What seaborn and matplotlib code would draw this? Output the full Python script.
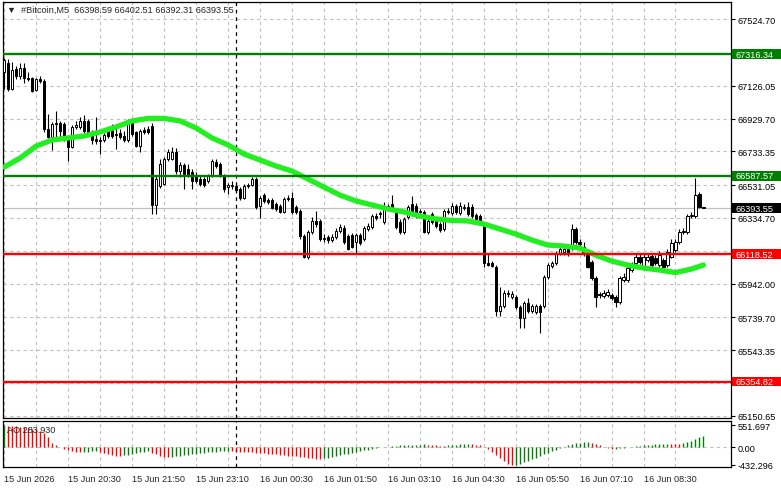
import numpy as np
import pandas as pd
import seaborn as sns
import matplotlib.pyplot as plt
from matplotlib.patches import Rectangle

sns.set_style('white')
plt.rcParams['font.family'] = ['Liberation Sans', 'DejaVu Sans']

# 5-minute candles, 15 Jun 19:10 .. 16 Jun 09:45
opens = [
    67208, 67262, 67106, 67226, 67184, 67232, 67172, 67172,
    67100, 67166, 67154, 66866, 66818, 66896, 66902, 66896,
    66806, 66758, 66878, 66878, 66914, 66914, 66848, 66806,
    66800, 66800, 66866, 66860, 66836, 66842, 66824, 66800,
    66908, 66848, 66764, 66860, 66866, 66884, 66410, 66524,
    66536, 66686, 66686, 66728, 66614, 66650, 66626, 66608,
    66584, 66566, 66566, 66554, 66584, 66668, 66656, 66584,
    66518, 66524, 66524, 66506, 66452, 66524, 66530, 66566,
    66404, 66470, 66440, 66440, 66416, 66404, 66368, 66446,
    66452, 66398, 66374, 66224, 66104, 66248, 66314, 66314,
    66206, 66218, 66200, 66218, 66254, 66272, 66224, 66230,
    66188, 66230, 66206, 66266, 66278, 66344, 66356, 66308,
    66398, 66416, 66368, 66308, 66248, 66338, 66416, 66404,
    66368, 66368, 66248, 66356, 66314, 66296, 66266, 66368,
    66362, 66404, 66362, 66392, 66398, 66398, 66350, 66344,
    66296, 66068, 66068, 66044, 65780, 65810, 65882, 65864,
    65864, 65804, 65738, 65828, 65780, 65774, 65810, 65810,
    65984, 66050, 66068, 66128, 66134, 66152, 66158, 66266,
    66188, 66164, 66116, 66074, 65978, 65876, 65870, 65876,
    65876, 65864, 65834, 65966, 65966, 66026, 66068, 66104,
    66044, 66086, 66110, 66098, 66056, 66086, 66056, 66104,
    66146, 66188, 66248, 66248, 66344, 66344, 66476, 66398.59,
]
highs = [
    67292, 67286, 67268, 67244, 67262, 67262, 67208, 67178,
    67172, 67184, 67166, 66956, 66908, 66974, 66914, 66908,
    66818, 66890, 66914, 66938, 66950, 66926, 66860, 66938,
    66818, 66842, 66878, 66896, 66896, 66866, 66854, 66926,
    66926, 66854, 66866, 66878, 66884, 66902, 66590, 66686,
    66698, 66746, 66758, 66752, 66668, 66662, 66656, 66626,
    66608, 66584, 66578, 66596, 66686, 66686, 66668, 66596,
    66542, 66554, 66542, 66518, 66536, 66542, 66578, 66578,
    66464, 66482, 66452, 66452, 66428, 66416, 66458, 66470,
    66488, 66410, 66386, 66236, 66260, 66338, 66374, 66326,
    66236, 66230, 66236, 66272, 66296, 66290, 66236, 66242,
    66242, 66242, 66284, 66302, 66356, 66362, 66374, 66428,
    66416, 66470, 66386, 66326, 66338, 66410, 66464, 66422,
    66386, 66380, 66332, 66368, 66326, 66308, 66386, 66392,
    66422, 66416, 66428, 66416, 66428, 66416, 66362, 66356,
    66308, 66128, 66080, 66056, 65924, 65906, 65906, 65900,
    65876, 65816, 65840, 65858, 65822, 65822, 65822, 65996,
    66068, 66080, 66140, 66170, 66170, 66164, 66296, 66278,
    66206, 66188, 66128, 66086, 65990, 65894, 65906, 65912,
    65888, 65876, 65990, 66008, 66050, 66074, 66122, 66122,
    66122, 66122, 66122, 66116, 66140, 66098, 66152, 66206,
    66206, 66266, 66272, 66356, 66368, 66572, 66488, 66402.51,
]
lows = [
    67106, 67094, 67100, 67166, 67166, 67142, 67154, 67088,
    67094, 67142, 66848, 66812, 66740, 66818, 66806, 66794,
    66674, 66752, 66866, 66866, 66842, 66836, 66776, 66776,
    66716, 66788, 66812, 66812, 66746, 66806, 66788, 66788,
    66824, 66758, 66728, 66836, 66836, 66356, 66356, 66512,
    66530, 66674, 66680, 66596, 66578, 66506, 66578, 66506,
    66542, 66524, 66518, 66542, 66578, 66632, 66578, 66488,
    66476, 66506, 66488, 66440, 66446, 66512, 66524, 66386,
    66332, 66422, 66416, 66386, 66374, 66362, 66362, 66434,
    66356, 66356, 66206, 66098, 66092, 66236, 66278, 66194,
    66188, 66182, 66188, 66206, 66242, 66176, 66146, 66158,
    66128, 66170, 66194, 66254, 66266, 66320, 66332, 66296,
    66380, 66374, 66266, 66236, 66236, 66326, 66344, 66332,
    66350, 66242, 66236, 66296, 66272, 66248, 66254, 66356,
    66350, 66356, 66350, 66380, 66344, 66332, 66314, 66290,
    66044, 66050, 66044, 65750, 65750, 65798, 65864, 65852,
    65792, 65678, 65678, 65768, 65768, 65762, 65648, 65798,
    65972, 66038, 66056, 66116, 66116, 66110, 66146, 66176,
    66164, 66110, 66038, 65966, 65804, 65858, 65858, 65864,
    65846, 65804, 65822, 65954, 65954, 66014, 66056, 66062,
    66026, 66074, 66044, 66056, 66044, 66038, 66044, 66098,
    66134, 66176, 66236, 66236, 66332, 66332, 66392, 66392.31,
]
closes = [
    67280, 67106, 67220, 67184, 67232, 67172, 67166, 67094,
    67166, 67154, 66866, 66818, 66896, 66902, 66854, 66806,
    66758, 66878, 66890, 66914, 66854, 66848, 66800, 66794,
    66794, 66830, 66824, 66824, 66830, 66818, 66800, 66902,
    66836, 66764, 66854, 66848, 66848, 66410, 66566, 66656,
    66686, 66728, 66728, 66614, 66650, 66596, 66584, 66554,
    66554, 66536, 66530, 66584, 66674, 66644, 66590, 66506,
    66530, 66530, 66500, 66452, 66524, 66530, 66566, 66398,
    66452, 66434, 66428, 66392, 66386, 66368, 66446, 66452,
    66368, 66368, 66224, 66104, 66248, 66314, 66296, 66206,
    66212, 66200, 66218, 66254, 66278, 66188, 66152, 66164,
    66230, 66182, 66272, 66284, 66344, 66332, 66362, 66398,
    66404, 66386, 66278, 66248, 66326, 66398, 66356, 66344,
    66374, 66248, 66314, 66308, 66284, 66260, 66374, 66374,
    66404, 66368, 66404, 66398, 66356, 66344, 66326, 66302,
    66068, 66056, 66050, 65780, 65810, 65888, 65888, 65882,
    65804, 65738, 65828, 65780, 65810, 65810, 65774, 65984,
    66056, 66068, 66128, 66152, 66152, 66128, 66266, 66188,
    66176, 66128, 66044, 65978, 65864, 65882, 65888, 65894,
    65858, 65834, 65978, 65984, 66038, 66050, 66104, 66074,
    66104, 66104, 66056, 66068, 66116, 66044, 66134, 66182,
    66188, 66248, 66254, 66344, 66350, 66470, 66398, 66393.55,
]

# moving average read every 4 bars
ma_bars = [0, 4, 8, 12, 16, 20, 24, 28, 32, 36, 40, 44, 48, 52, 56, 60,
           64, 68, 72, 76, 80, 84, 88, 92, 96, 100, 104, 108, 112, 116,
           120, 124, 128, 132, 136, 140, 144, 148, 152, 156, 160, 164,
           168, 172, 175]
ma_values = [66640, 66694, 66766, 66802, 66814, 66826, 66850, 66880, 66916,
             66931, 66931, 66916, 66874, 66814, 66772, 66718, 66682, 66646,
             66616, 66568, 66520, 66472, 66437, 66413, 66389, 66371, 66347,
             66329, 66320, 66317, 66299, 66269, 66239, 66203, 66173, 66167,
             66155, 66113, 66077, 66053, 66035, 66023, 66008, 66029, 66053]

# Awesome Oscillator
ao_values = [
    551.7, 540, 532, 522, 512, 500, 488, 470, 450, 420, 360, 250,
    120, 50, 10,
    -30, -60, -85, -100, -110,
    -105, -100, -95, -92,
    -110, -140, -165, -185, -200, -205,
    -195, -180, -160, -140, -120, -105, -95,
    -130, -170, -205, -230, -245,
    -235, -220, -205, -190, -175, -160, -150, -140, -130, -120, -110, -100, -92, -85, -80,
    -85, -95, -105, -110, -115, -120, -125,
    -130, -140, -150, -160, -170, -180, -190, -200, -210, -220, -230, -240, -255, -270, -285, -290,
    -270, -250, -230, -210, -190, -170, -150, -130, -110, -90, -70, -50, -30, -15, 0, 10,
    20, 30, 40, 50, 55, 60, 65, 70, 72, 75,
    70, 62, 55, 48, 40,
    50, 60, 70, 80, 88, 95,
    85, 70, 50, 20,
    -40, -110, -190, -270, -340, -400, -432.3,
    -425, -400, -370, -330, -290, -250, -210, -170, -130, -90, -50, -10,
    20, 50, 80, 100, 115, 125, 130,
    110, 80, 50, 20, -10, -40,
    -30, -20, -10, 0, 10,
    25, 40, 50, 60, 70, 78, 85, 90, 92,
    85, 80, 75,
    100, 130, 170, 210, 250, 283.93,
]

green_levels = [67316.34, 66587.57]
red_levels = [66118.52, 65354.82]
last_price = 66393.55

price_ticks = [67524.70, 67325.40, 67126.05, 66929.70, 66733.35, 66531.05,
               66334.70, 66138.35, 65942.00, 65739.70, 65543.35, 65347.00,
               65150.65]
price_labels = ['67524.70', '', '67126.05', '66929.70', '66733.35', '66531.05',
                '66334.70', '', '65942.00', '65739.70', '65543.35', '',
                '65150.65']
time_labels = ['15 Jun 2026', '15 Jun 20:30', '15 Jun 21:50', '15 Jun 23:10',
               '16 Jun 00:30', '16 Jun 01:50', '16 Jun 03:10', '16 Jun 04:30',
               '16 Jun 05:50', '16 Jun 07:10', '16 Jun 08:30']
ao_ticks = [551.697, 0.0, -432.296]
ao_labels = ['551.697', '0.00', '-432.296']

df = pd.DataFrame({'open': opens, 'high': highs, 'low': lows, 'close': closes})
df['bar'] = np.arange(len(df))
ma = pd.DataFrame({'bar': ma_bars, 'ma': ma_values})

W, H = 781, 489
fig = plt.figure(figsize=(W / 100, H / 100), dpi=100)
ax = fig.add_axes([3 / W, 1 - 418.5 / H, 728 / W, 415.5 / H])
ax2 = fig.add_axes([3 / W, 1 - 468 / H, 728 / W, 46.5 / H])

grid_kw = dict(color='#c0c0c0', linestyle=(0, (3, 3)), linewidth=0.8)
fs = 6.6

# candles
ax.axhline(last_price, color='#c0c0c0', linewidth=0.9, zorder=1)
ax.vlines(df['bar'], df['low'], df['high'], color='black', linewidth=0.8, zorder=3)
body_bottom = np.minimum(df['open'], df['close'])
body_height = (df['close'] - df['open']).abs()
body_color = np.where(df['close'] < df['open'], 'black', 'white')
ax.bar(df['bar'], body_height, bottom=body_bottom, width=0.55,
       color=body_color, edgecolor='black', linewidth=0.7, zorder=4)

sns.lineplot(data=ma, x='bar', y='ma', ax=ax, color='#22ee22', linewidth=3.8,
             zorder=5, legend=False)

for lv in green_levels:
    ax.axhline(lv, color='#008000', linewidth=1.7, zorder=6)
for lv in red_levels:
    ax.axhline(lv, color='#ff0000', linewidth=1.7, zorder=6)

ax.axvline(58, color='black', linestyle=(0, (3, 3)), linewidth=0.9, zorder=2)

ax.set_xlim(-0.33, 181.9)
ax.set_ylim(65139.9, 67628.3)
ax.set_yticks(price_ticks)
ax.set_yticklabels(price_labels)
ax.set_xticks(range(0, 176, 16))
ax.set_xticks(range(8, 176, 16), minor=True)
ax.grid(True, which='both', zorder=0, **grid_kw)
ax.set_axisbelow(True)
ax.yaxis.tick_right()
ax.tick_params(axis='y', labelsize=fs, length=3, width=0.8, pad=1.5, colors='black')
ax.tick_params(axis='x', which='both', bottom=False, labelbottom=False)
ax.set_xlabel('')
ax.set_ylabel('')

# price boxes on the right
box_w = 50 / 728
box_h = 9.5 * 5.989
tag_colors = [(green_levels[0], '#008000'), (green_levels[1], '#008000'),
              (last_price, 'black'), (red_levels[0], '#ff0000'),
              (red_levels[1], '#ff0000')]
for lv, col in tag_colors:
    ax.add_patch(Rectangle((1.0008, lv - box_h / 2), box_w, box_h, facecolor=col,
                           edgecolor='none', transform=ax.get_yaxis_transform(),
                           clip_on=False, zorder=10))
    ax.text(1.0008 + 4 / 728, lv, f'{lv:.2f}', color='white', fontsize=fs,
            va='center', ha='left', transform=ax.get_yaxis_transform(),
            clip_on=False, zorder=11)

ax.text(4 / 728, 1 - 7.5 / 415.5, '\u25bc  #Bitcoin,M5  66398.59 66402.51 66392.31 66393.55',
        transform=ax.transAxes, fontsize=fs, va='center', ha='left',
        family=['Liberation Sans', 'DejaVu Sans'])

# AO panel
ao_color = ['#008000' if i == 0 or ao_values[i] > ao_values[i - 1] else '#ff0000'
            for i in range(len(ao_values))]
ax2.axhline(0, zorder=1, **grid_kw)
ax2.vlines(np.arange(len(ao_values)), 0, ao_values, colors=ao_color,
           linewidth=1.0, zorder=3)
ax2.axvline(58, color='black', linestyle=(0, (3, 3)), linewidth=0.9, zorder=2)
ax2.set_xlim(-0.33, 181.9)
ax2.set_ylim(-484, 670)
ax2.set_yticks(ao_ticks)
ax2.set_yticklabels(ao_labels)
ax2.yaxis.tick_right()
ax2.set_xticks(range(0, 176, 16))
ax2.set_xticks(range(8, 176, 16), minor=True)
ax2.set_xticklabels(time_labels, ha='left')
ax2.grid(True, axis='x', which='both', zorder=0, **grid_kw)
ax2.tick_params(axis='y', labelsize=fs, length=3, width=0.8, pad=1.5, colors='black')
ax2.tick_params(axis='x', which='major', labelsize=fs, length=3, width=0.8, pad=2)
ax2.tick_params(axis='x', which='minor', length=0)
ax2.text(4 / 728, 1 - 9 / 46.5, 'AO 283.930', transform=ax2.transAxes,
         fontsize=fs, va='center', ha='left')

for a in (ax, ax2):
    for s in a.spines.values():
        s.set_color('black')
        s.set_linewidth(0.9)

fig.savefig('out.png', dpi=100, facecolor='white')
